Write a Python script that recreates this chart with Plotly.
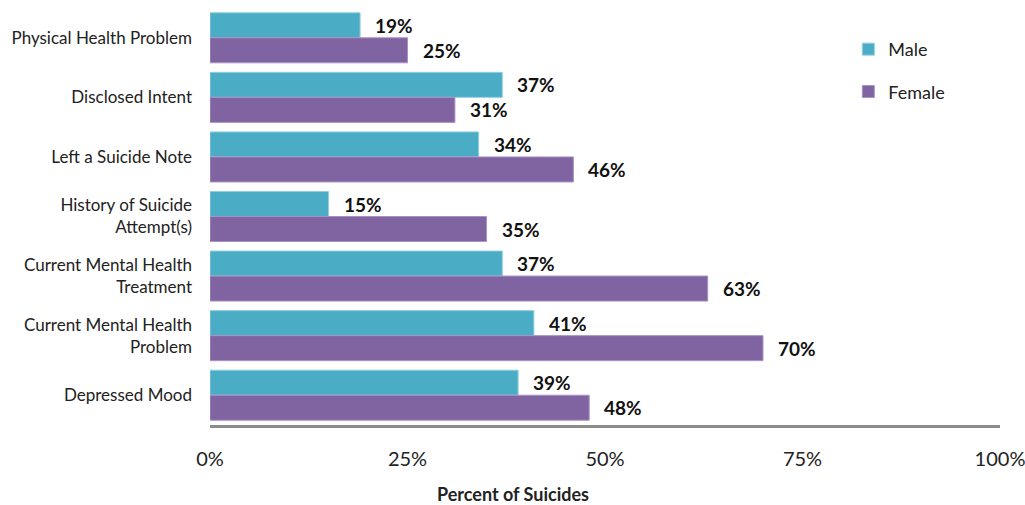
import plotly.graph_objects as go

categories = [
    "Physical Health Problem",
    "Disclosed Intent",
    "Left a Suicide Note",
    "History of Suicide<br>Attempt(s)",
    "Current Mental Health<br>Treatment",
    "Current Mental Health<br>Problem",
    "Depressed Mood",
]
male = [19, 37, 34, 15, 37, 41, 39]
female = [25, 31, 46, 35, 63, 70, 48]
xtick_vals = [0, 25, 50, 75, 100]
xtick_text = ["0%", "25%", "50%", "75%", "100%"]
x_title = "Percent of Suicides"

MALE_C = "#4BACC6"
FEMALE_C = "#8064A2"
FONT = "Lato"

fig = go.Figure()
fig.add_trace(go.Bar(
    y=categories, x=male, name="Male", orientation="h",
    marker=dict(color=MALE_C, line=dict(color="#8fd0e0", width=1)),
    legendgroup="m",
))
fig.add_trace(go.Bar(
    y=categories, x=female, name="Female", orientation="h",
    marker=dict(color=FEMALE_C, line=dict(color="#a893c4", width=1)),
    legendgroup="f",
))

annotations = []
for cat, m, f in zip(categories, male, female):
    for val, shift in ((m, 12.5), (f, -12.5)):
        annotations.append(dict(
            x=val, y=cat, xref="x", yref="y", text=f"<b>{val}%</b>",
            showarrow=False, xanchor="left", yanchor="middle",
            xshift=13, yshift=shift,
            font=dict(family=FONT, size=19, color="#111111"),
        ))
annotations.append(dict(
    x=0.3835, y=0, xref="paper", yref="paper", yshift=-69,
    text=f"<b>{x_title}</b>", showarrow=False,
    xanchor="center", yanchor="middle",
    font=dict(family=FONT, size=18, color="#222222"),
))

fig.update_layout(
    width=1025, height=505,
    margin=dict(l=210, r=25, t=8, b=80, autoexpand=False),
    paper_bgcolor="white", plot_bgcolor="white",
    barmode="group", bargap=0.16, bargroupgap=0,
    font=dict(family=FONT, size=17, color="#222222"),
    legend=dict(
        x=0.808, y=0.945, xanchor="left", yanchor="top",
        font=dict(family=FONT, size=18, color="#222222"),
        traceorder="grouped", tracegroupgap=16,
        itemwidth=30, bgcolor="rgba(0,0,0,0)",
    ),
    annotations=annotations,
    xaxis=dict(
        range=[0, 100], tickvals=xtick_vals, ticktext=xtick_text,
        showgrid=False, zeroline=False, automargin=False,
        showline=True, linecolor="#8c8c8c", linewidth=3,
        tickfont=dict(family=FONT, size=20, color="#222222"),
        ticks="", ticklabelstandoff=14, ticklabeloverflow="allow",
    ),
    yaxis=dict(
        autorange="reversed", showgrid=False, zeroline=False,
        showline=False, ticks="", ticklabelstandoff=17, automargin=False,
        tickfont=dict(family=FONT, size=17, color="#222222"),
    ),
)

fig.write_html(
    "out.html",
    config={"displayModeBar": False},
    post_script="document.body.style.margin='0';document.body.style.overflow='hidden';",
)
